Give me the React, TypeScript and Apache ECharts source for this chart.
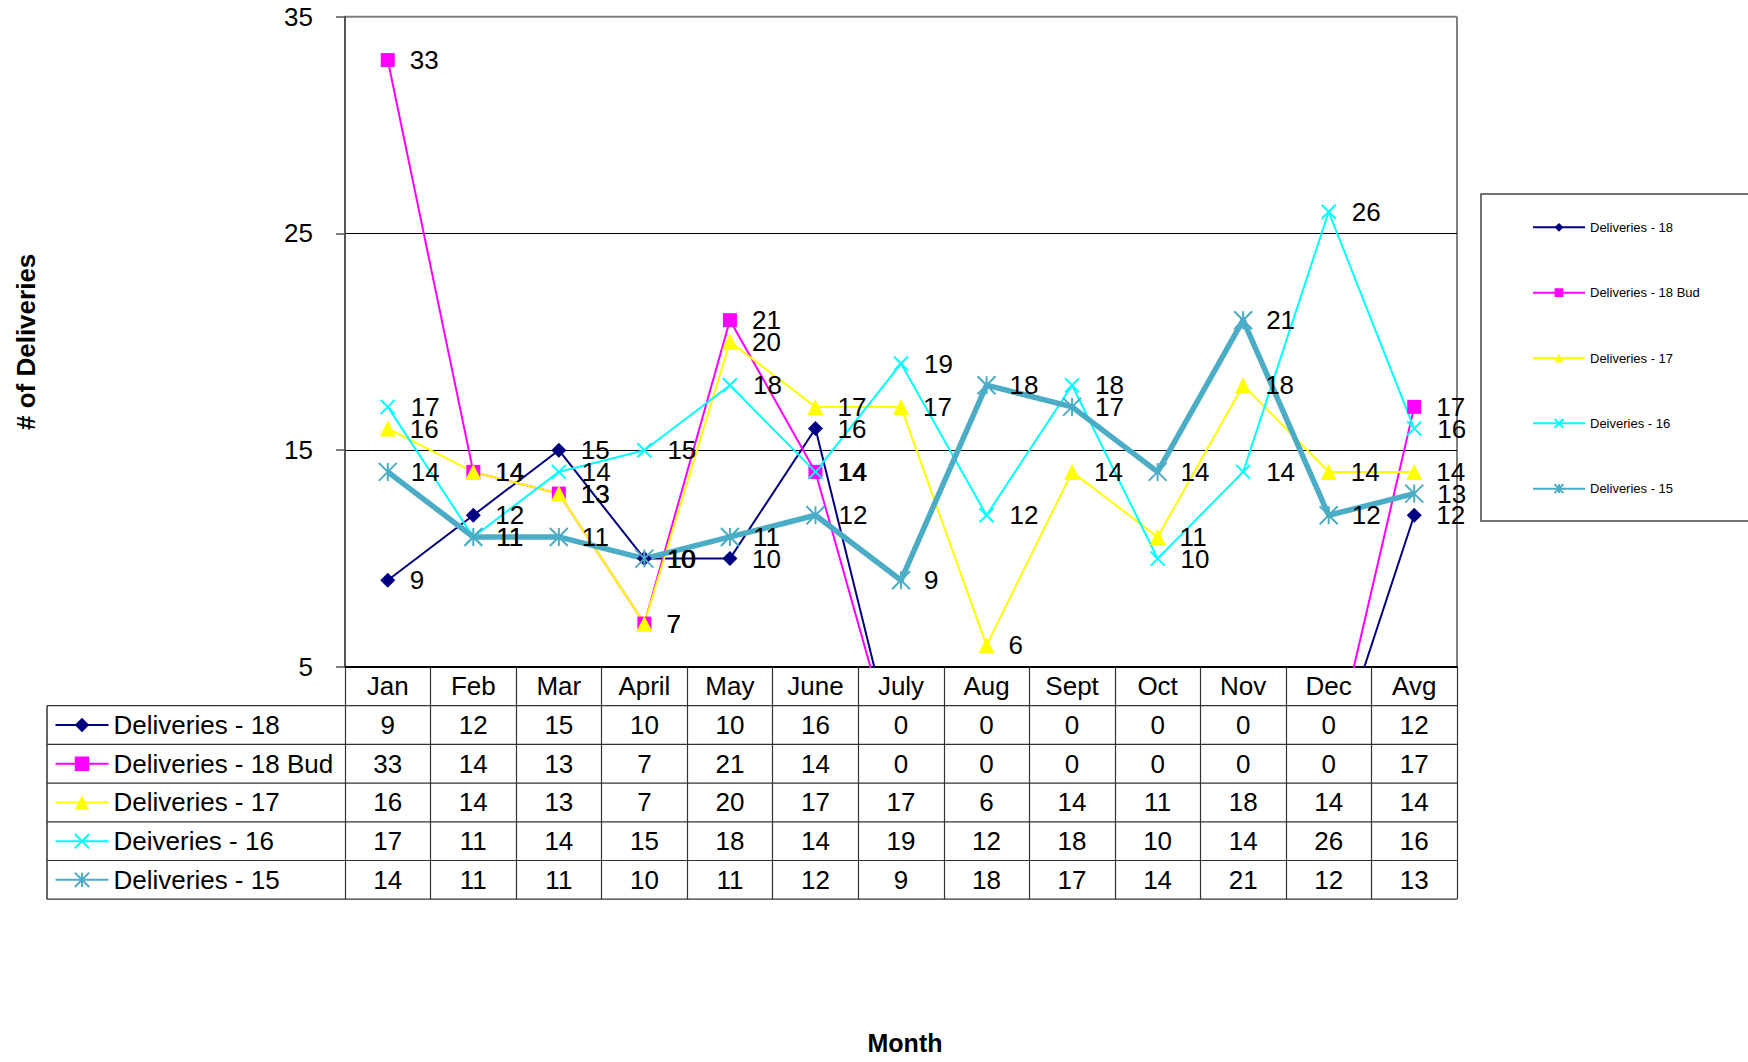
import React, { useEffect, useRef } from 'react';
import * as echarts from 'echarts';

// ---------- data ----------
const categories = ['Jan', 'Feb', 'Mar', 'April', 'May', 'June', 'July', 'Aug', 'Sept', 'Oct', 'Nov', 'Dec', 'Avg'];
const seriesNames = ['Deliveries - 18', 'Deliveries - 18 Bud', 'Deliveries - 17', 'Deiveries - 16', 'Deliveries - 15'];
const d18 = [9, 12, 15, 10, 10, 16, 0, 0, 0, 0, 0, 0, 12];
const d18Bud = [33, 14, 13, 7, 21, 14, 0, 0, 0, 0, 0, 0, 17];
const d17 = [16, 14, 13, 7, 20, 17, 17, 6, 14, 11, 18, 14, 14];
const d16 = [17, 11, 14, 15, 18, 14, 19, 12, 18, 10, 14, 26, 16];
const d15 = [14, 11, 11, 10, 11, 12, 9, 18, 17, 14, 21, 12, 13];
const Y_MIN = 5;
const Y_MAX = 35;
const Y_STEP = 10;

// ---------- layout / style ----------
const FONT = "'Liberation Sans', Arial, Helvetica, sans-serif";
const GRID = { left: 345, top: 16.7, width: 1112, height: 650.3 };
const ROW_H = 38.7;
const TABLE_LEFT = 47;
const PLOT_BOTTOM = GRID.top + GRID.height;
const PLOT_RIGHT = GRID.left + GRID.width;

const rows = [d18, d18Bud, d17, d16, d15];
const looks = [
  { color: '#000080', symbol: 'diamond', size: 15, width: 2, stroke: false },
  { color: '#FF00FF', symbol: 'rect', size: 14, width: 2, stroke: false },
  { color: '#FFFF00', symbol: 'triangle', size: 16, width: 2, stroke: false },
  { color: '#00FFFF', symbol: 'path://M0 0L10 10M10 0L0 10', size: 14, width: 2, stroke: true },
  { color: '#4BACC6', symbol: 'path://M0 0L10 10M10 0L0 10M5 0L5 10', size: 18, width: 5.5, stroke: true },
];

function buildOption() {
  const series = rows.map((row, i) => {
    const lk = looks[i];
    return {
      name: seriesNames[i],
      type: 'line',
      data: row,
      xAxisIndex: 0,
      yAxisIndex: 0,
      clip: true,
      showAllSymbol: true,
      symbol: lk.symbol,
      symbolSize: lk.size,
      lineStyle: { color: lk.color, width: lk.width },
      itemStyle: lk.stroke
        ? { color: lk.color, borderColor: lk.color, borderWidth: 2 }
        : { color: lk.color, borderWidth: 0 },
      label: {
        show: true,
        position: 'right',
        distance: 22 - lk.size / 2,
        fontSize: 26,
        fontFamily: FONT,
        color: '#000',
        formatter: (p: any) => (p.value < Y_MIN ? '' : String(p.value)),
      },
      emphasis: { disabled: true },
    };
  });

  const tableAxes = rows.map((row, k) => ({
    type: 'category',
    gridIndex: 0,
    position: 'bottom',
    offset: ROW_H * (k + 1),
    data: categories,
    axisLine: { show: false },
    axisTick: { show: false },
    splitLine: { show: false },
    axisLabel: {
      interval: 0,
      margin: ROW_H / 2,
      verticalAlign: 'middle',
      fontSize: 26,
      fontFamily: FONT,
      color: '#000',
      formatter: (_v: string, idx: number) => String(row[idx]),
    },
  }));

  const graphic: any[] = [
    // plot frame (top and right)
    { type: 'line', shape: { x1: GRID.left, y1: GRID.top, x2: PLOT_RIGHT, y2: GRID.top }, style: { stroke: '#808080', lineWidth: 2 } },
    { type: 'line', shape: { x1: PLOT_RIGHT, y1: GRID.top, x2: PLOT_RIGHT, y2: PLOT_BOTTOM }, style: { stroke: '#808080', lineWidth: 2 } },
    // table left edge
    { type: 'line', shape: { x1: TABLE_LEFT, y1: PLOT_BOTTOM + ROW_H, x2: TABLE_LEFT, y2: PLOT_BOTTOM + ROW_H * 6 }, style: { stroke: '#333', lineWidth: 1.5 } },
    // right legend box
    { type: 'rect', shape: { x: 1481, y: 194, width: 320, height: 327 }, style: { fill: 'none', stroke: '#444', lineWidth: 1.5 } },
  ];
  for (let k = 1; k <= 6; k++) {
    const y = PLOT_BOTTOM + ROW_H * k;
    graphic.push({ type: 'line', shape: { x1: TABLE_LEFT, y1: y, x2: PLOT_RIGHT, y2: y }, style: { stroke: '#333', lineWidth: 1.2 } });
  }

  return {
    animation: false,
    backgroundColor: '#fff',
    textStyle: { fontFamily: FONT },
    grid: { ...GRID, outerBoundsMode: 'none', containLabel: false },
    legend: [
      {
        orient: 'vertical',
        left: 1532,
        top: 220.3,
        padding: 0,
        itemWidth: 52,
        itemHeight: 11,
        itemGap: 51.35,
        selectedMode: false,
        data: seriesNames,
        textStyle: { fontSize: 13, lineHeight: 14, color: '#000', fontFamily: FONT },
      },
      {
        orient: 'vertical',
        left: 54.5,
        top: PLOT_BOTTOM + ROW_H * 1.5 - 13,
        padding: 0,
        itemWidth: 53,
        itemHeight: 18,
        itemGap: ROW_H - 26,
        selectedMode: false,
        data: seriesNames,
        textStyle: { fontSize: 26, lineHeight: 26, color: '#000', fontFamily: FONT },
      },
    ],
    xAxis: [
      {
        type: 'category',
        gridIndex: 0,
        position: 'bottom',
        data: categories,
        boundaryGap: true,
        axisLine: { show: true, lineStyle: { color: '#000', width: 2 } },
        axisTick: { show: true, interval: 0, length: ROW_H * 6, lineStyle: { color: '#333', width: 1.2 } },
        axisLabel: { interval: 0, margin: ROW_H / 2, verticalAlign: 'middle', fontSize: 26, fontFamily: FONT, color: '#000' },
        splitLine: { show: false },
        name: 'Month',
        nameLocation: 'middle',
        nameGap: 363,
        nameTextStyle: { fontSize: 25, fontWeight: 'bold', color: '#000', fontFamily: FONT, padding: [0, 0, 0, 8] },
      },
      ...tableAxes,
    ],
    yAxis: {
      type: 'value',
      min: Y_MIN,
      max: Y_MAX,
      interval: Y_STEP,
      axisLine: { show: true, lineStyle: { color: '#555', width: 2 } },
      axisTick: { show: true, length: 9, lineStyle: { color: '#555', width: 1.5 } },
      axisLabel: { margin: 32, fontSize: 26, fontFamily: FONT, color: '#000' },
      splitLine: { show: true, showMaxLine: false, lineStyle: { color: '#000', width: 1 } },
      name: '# of Deliveries',
      nameLocation: 'middle',
      nameGap: 306,
      nameTextStyle: { fontSize: 26, fontWeight: 'bold', color: '#000', fontFamily: FONT },
    },
    graphic,
    series,
  };
}

export default function App() {
  const ref = useRef<HTMLDivElement>(null);
  useEffect(() => {
    document.body.style.margin = '0';
    const chart = echarts.init(ref.current!, null, { renderer: 'svg' });
    chart.setOption(buildOption() as any);
    return () => chart.dispose();
  }, []);
  return <div ref={ref} style={{ width: 1748, height: 1062 }} />;
}
